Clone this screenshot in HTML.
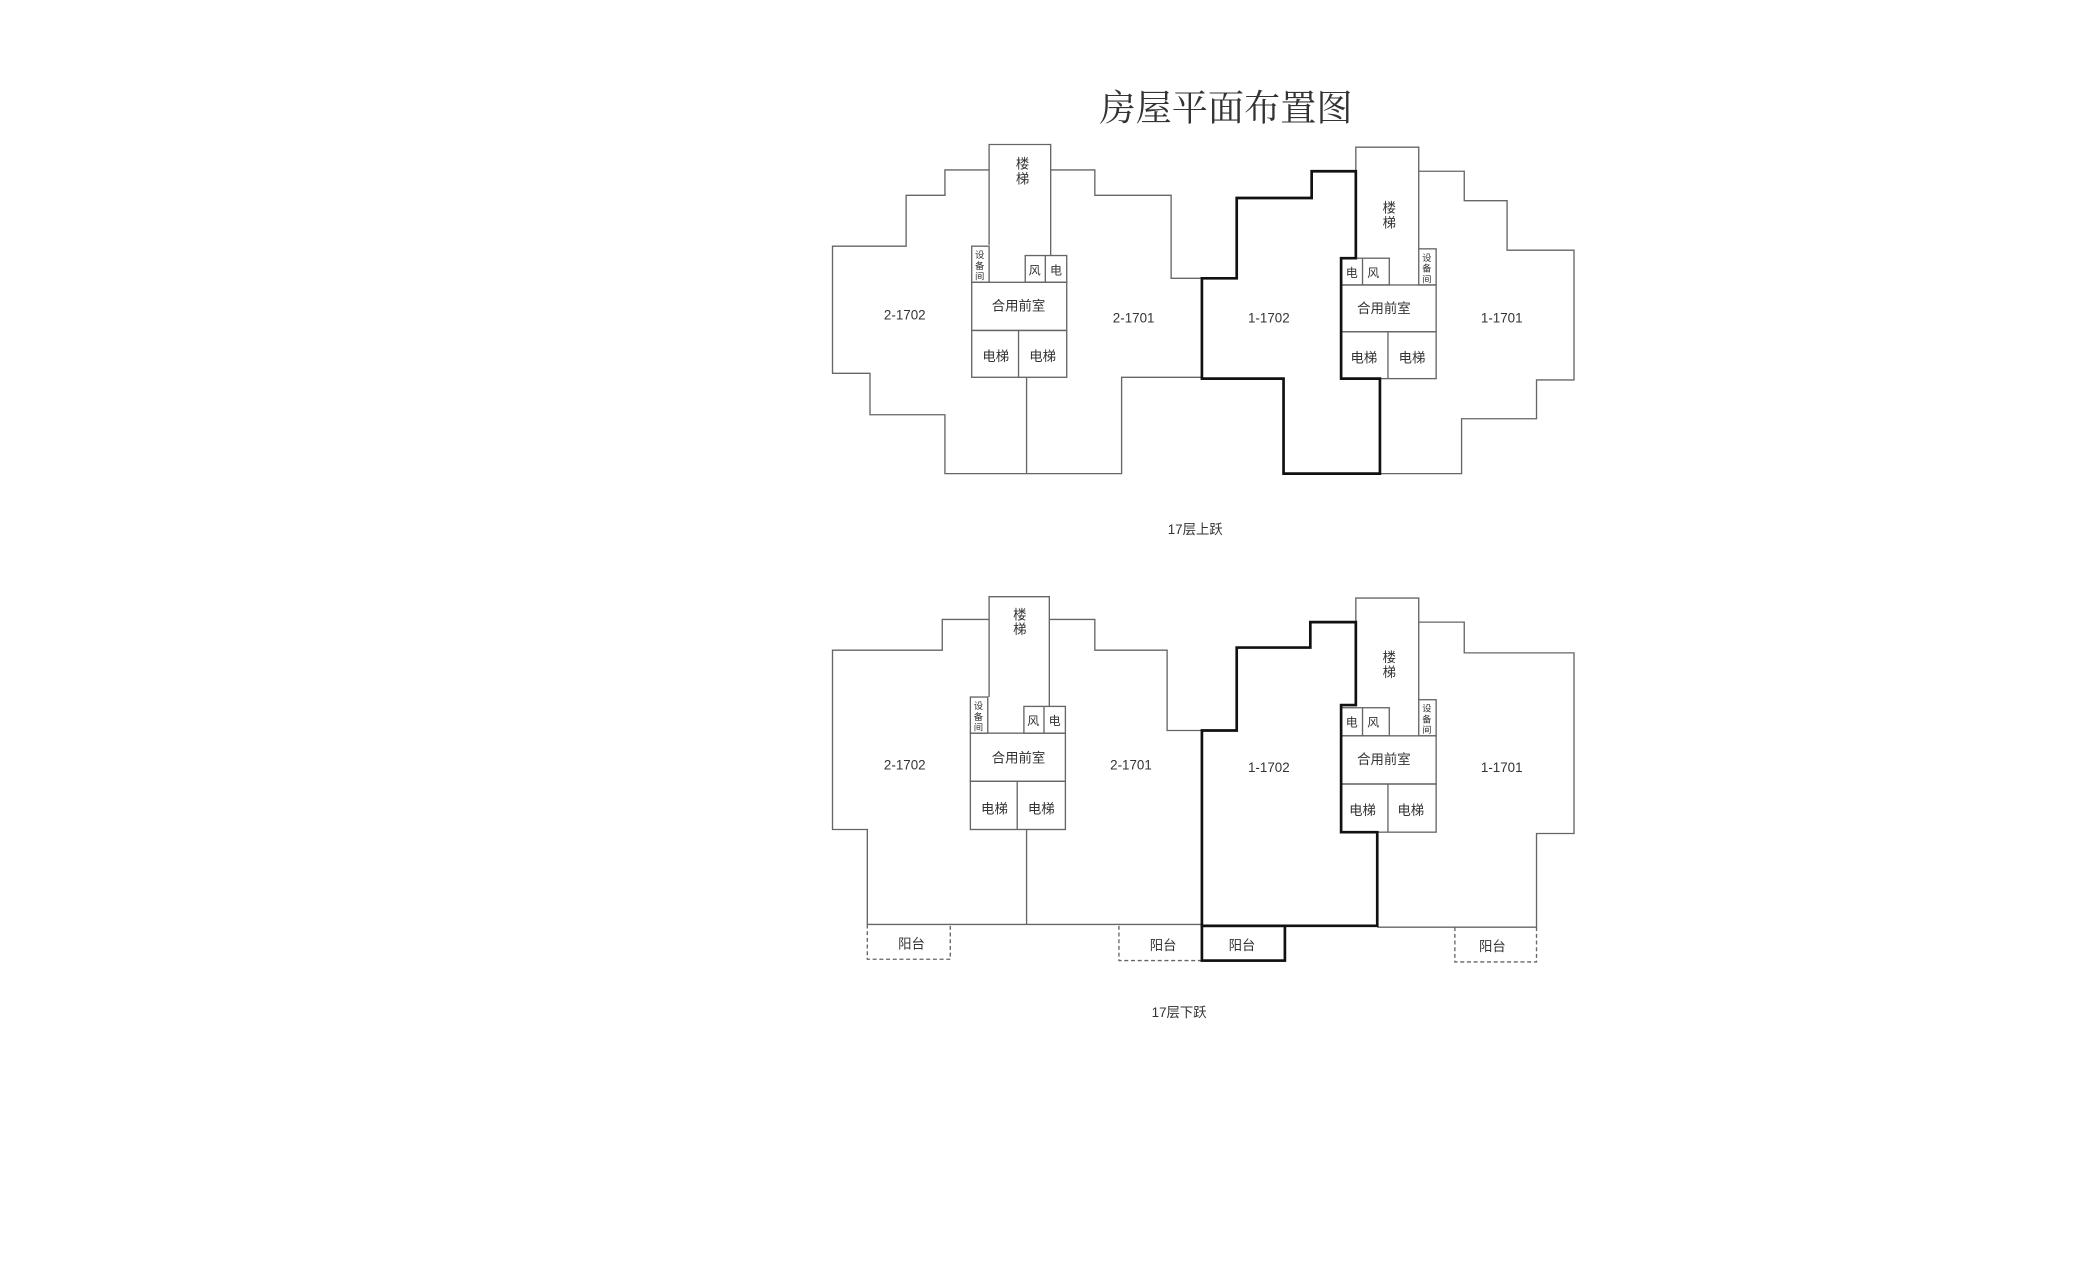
<!DOCTYPE html>
<html><head><meta charset="utf-8"><style>
html,body{margin:0;padding:0;background:#fff;}
svg{display:block;}
text{font-family:"Liberation Sans","Noto Sans CJK SC",sans-serif;fill:#333;}
</style></head><body>
<svg width="2100" height="1275" viewBox="0 0 1569 953" preserveAspectRatio="none" xmlns="http://www.w3.org/2000/svg">
<rect width="1569" height="953" fill="#fff"/>
<text x="916" y="90" font-size="27" text-anchor="middle" style="font-family:'Liberation Serif','Noto Serif CJK SC',serif">房屋平面布置图</text>
<g fill="none" stroke="#666" stroke-width="1">
<!-- TOP -->
<polyline points="739,183 739,108 785,108 785,191"/>
<polyline points="739,127 706,127 706,146 677,146 677,184 622,184 622,279 650,279 650,310 706,310 706,354 838,354 838,282 898,282"/>
<polyline points="785,127 818,127 818,146 875,146 875,208 898,208"/>
<rect x="726" y="184" width="13" height="27"/>
<rect x="766" y="191" width="31" height="20"/><line x1="781" y1="191" x2="781" y2="211"/>
<rect x="726" y="211" width="71" height="36"/>
<rect x="726" y="247" width="71" height="35"/><line x1="761" y1="247" x2="761" y2="282"/>
<line x1="767" y1="282" x2="767" y2="354"/>
<polyline points="1013,128 1013,110 1060,110 1060,186"/>
<polyline points="1060,128 1094,128 1094,150 1126,150 1126,187 1176,187 1176,284 1148,284 1148,313 1092,313 1092,354 1031,354"/>
<rect x="1002" y="193" width="36" height="20"/><line x1="1018" y1="193" x2="1018" y2="213"/>
<rect x="1060" y="186" width="13" height="27"/>
<rect x="1002" y="213" width="71" height="35"/>
<rect x="1002" y="248" width="71" height="35"/><line x1="1037" y1="248" x2="1037" y2="283"/>
<!-- BOTTOM -->
<polyline points="739,521 739,446 784,446 784,528"/>
<polyline points="739,463 704,463 704,486 622,486 622,620 648,620 648,691 898,691"/>
<polyline points="784,463 818,463 818,486 872,486 872,546 898,546"/>
<rect x="725" y="521" width="13" height="27"/>
<rect x="765" y="528" width="31" height="20"/><line x1="780" y1="528" x2="780" y2="548"/>
<rect x="725" y="548" width="71" height="36"/>
<rect x="725" y="584" width="71" height="36"/><line x1="760" y1="584" x2="760" y2="620"/>
<line x1="767" y1="620" x2="767" y2="691"/>
<polyline points="1013,465 1013,447 1060,447 1060,523"/>
<polyline points="1060,465 1094,465 1094,488 1176,488 1176,623 1148,623 1148,693 1029,693"/>
<rect x="1002" y="529" width="36" height="21"/><line x1="1018" y1="529" x2="1018" y2="550"/>
<rect x="1060" y="523" width="13" height="27"/>
<rect x="1002" y="550" width="71" height="36"/>
<rect x="1002" y="586" width="71" height="36"/><line x1="1037" y1="586" x2="1037" y2="622"/>
<g stroke-dasharray="3,2">
<polyline points="648,691 648,717 710,717 710,691"/>
<polyline points="836,692 836,718 898,718"/>
<polyline points="1087,693 1087,719 1148,719 1148,693"/>
</g>
</g>
<g fill="none" stroke="#111" stroke-width="2">
<polygon points="898,208 924,208 924,148 980,148 980,128 1013,128 1013,193 1002,193 1002,283 1031,283 1031,354 959,354 959,283 898,283"/>
<polygon points="898,546 924,546 924,484 979,484 979,465 1013,465 1013,527 1002,527 1002,622 1029,622 1029,692 898,692"/>
<rect x="898" y="692" width="62" height="26"/>
</g>
<g font-size="10" text-anchor="middle">
<text x="676" y="239">2-1702</text><text x="847" y="241">2-1701</text>
<text x="948" y="241">1-1702</text><text x="1122" y="241">1-1701</text>
<text x="764" y="126">楼</text><text x="764" y="137">梯</text>
<text x="1038" y="159">楼</text><text x="1038" y="170">梯</text>
<text x="761" y="232">合用前室</text><text x="1034" y="234">合用前室</text>
<text x="744" y="270">电梯</text><text x="779" y="270">电梯</text>
<text x="1019" y="271">电梯</text><text x="1055" y="271">电梯</text>
<text x="773" y="205" font-size="9">风</text><text x="789" y="205" font-size="9">电</text>
<text x="1010" y="207" font-size="9">电</text><text x="1026" y="207" font-size="9">风</text>
<text x="732" y="193" font-size="7">设</text><text x="732" y="201" font-size="7">备</text><text x="732" y="209" font-size="7">间</text>
<text x="1066" y="195" font-size="7">设</text><text x="1066" y="203" font-size="7">备</text><text x="1066" y="211" font-size="7">间</text>
<text x="893" y="399">17层上跃</text>

<text x="676" y="575">2-1702</text><text x="845" y="575">2-1701</text>
<text x="948" y="577">1-1702</text><text x="1122" y="577">1-1701</text>
<text x="762" y="463">楼</text><text x="762" y="474">梯</text>
<text x="1038" y="495">楼</text><text x="1038" y="506">梯</text>
<text x="761" y="570">合用前室</text><text x="1034" y="571">合用前室</text>
<text x="743" y="608">电梯</text><text x="778" y="608">电梯</text>
<text x="1018" y="609">电梯</text><text x="1054" y="609">电梯</text>
<text x="772" y="542" font-size="9">风</text><text x="788" y="542" font-size="9">电</text>
<text x="1010" y="543" font-size="9">电</text><text x="1026" y="543" font-size="9">风</text>
<text x="731" y="530" font-size="7">设</text><text x="731" y="538" font-size="7">备</text><text x="731" y="546" font-size="7">间</text>
<text x="1066" y="532" font-size="7">设</text><text x="1066" y="540" font-size="7">备</text><text x="1066" y="548" font-size="7">间</text>
<text x="681" y="709">阳台</text><text x="869" y="710">阳台</text><text x="928" y="710">阳台</text><text x="1115" y="711">阳台</text>
<text x="881" y="760">17层下跃</text>
</g>
</svg>
</body></html>
